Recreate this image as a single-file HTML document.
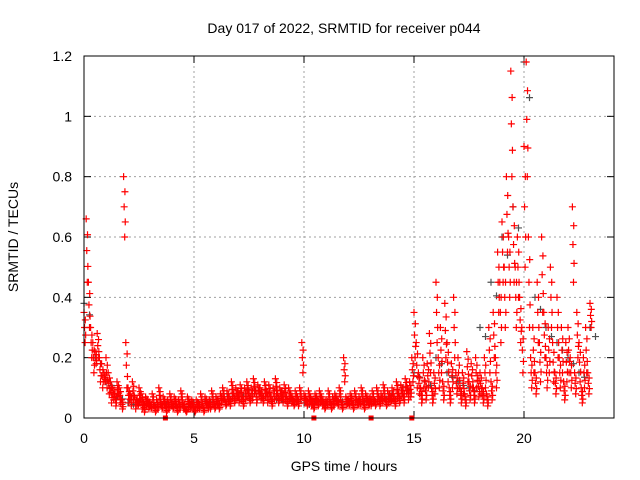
<!DOCTYPE html>
<html><head><meta charset="utf-8"><style>
html,body{margin:0;padding:0;background:#fff;}
svg{display:block;font-family:"Liberation Sans",sans-serif;}
</style></head><body>
<svg id="chart" width="640" height="480">
<rect width="640" height="480" fill="#fff"/>
<text x="344" y="33" font-size="14" text-anchor="middle">Day 017 of 2022, SRMTID for receiver p044</text>
<g id="grid"></g><g id="axes"></g><g id="marks"></g>
<rect x="84" y="56" width="530" height="362" fill="none" stroke="#000"/>
<text x="344" y="471" font-size="14" text-anchor="middle">GPS time / hours</text>
<text transform="translate(18,237) rotate(-90)" font-size="14" text-anchor="middle">SRMTID / TECUs</text>
</svg>
<script>
const xTicks=[0,5,10,15,20];
const yTicks=[0,0.2,0.4,0.6,0.8,1,1.2];
const yTickLabels=["0","0.2","0.4","0.6","0.8","1","1.2"];
const redStep=0.1;
const redA=[0.35,0.66,0.45,0.3,0.25,0.22,0.28,0.2,0.18,0.15,
0.2,0.15,0.12,0.1,0.08,0.12,0.1,0.06,0.8,0.25,
0.1,0.08,0.12,0.07,0.06,0.1,0.08,0.05,0.07,0.06,
0.05,0.08,0.04,0.06,0.1,0.05,0.07,0.04,0.06,0.08,
0.05,0.07,0.04,0.06,0.09,0.05,0.03,0.07,0.05,0.06,
0.04,0.06,0.05,0.08,0.04,0.07,0.05,0.06,0.09,0.05,
0.07,0.05,0.08,0.1,0.06,0.09,0.07,0.12,0.08,0.1,
0.09,0.11,0.07,0.1,0.12,0.08,0.1,0.13,0.09,0.11,
0.1,0.08,0.12,0.09,0.11,0.07,0.1,0.13,0.08,0.1,
0.09,0.11,0.07,0.1,0.08,0.06,0.09,0.07,0.1,0.25,
0.08,0.06,0.09,0.07,0.05,0.08,0.06,0.09,0.07,0.05,
0.06,0.09,0.05,0.07,0.08,0.06,0.1,0.05,0.2,0.07,
0.06,0.08,0.05,0.09,0.06,0.07,0.1,0.05,0.08,0.06,
0.07,0.09,0.06,0.1,0.07,0.08,0.11,0.06,0.09,0.08,
0.1,0.07,0.12,0.08,0.11,0.09,0.13,0.1,0.12,0.2,
0.35,0.25,0.15,0.1,0.2,0.12,0.18,0.28,0.1,0.15,
0.45,0.2,0.3,0.12,0.38,0.25,0.1,0.18,0.4,0.15,
0.2,0.1,0.15,0.08,0.22,0.12,0.18,0.1,0.2,0.14,
0.15,0.1,0.2,0.08,0.3,0.12,0.35,0.2,0.55,0.45,
0.65,0.5,0.8,0.6,1.15,0.7,0.5,0.6,0.4,0.3,
0.9,1.18,0.6,0.2,0.3,0.15,0.45,0.25,0.6,0.35,
0.2,0.3,0.5,0.25,0.15,0.4,0.2,0.3,0.12,0.25,
0.3,0.2,0.7,0.15,0.35,0.25,0.1,0.2,0.3,0.15,
0.38];
const redB=[0.25,0.45,0.3,0.2,0.15,0.18,0.2,0.12,0.1,0.12,
0.1,0.08,0.05,0.06,0.04,0.07,0.05,0.03,0.6,0.1,
0.05,0.04,0.06,0.03,0.04,0.05,0.03,0.02,0.04,0.03,
0.03,0.04,0.02,0.03,0.05,0.03,0.04,0.02,0.03,0.04,
0.03,0.04,0.02,0.03,0.05,0.03,0.02,0.04,0.03,0.03,
0.02,0.03,0.03,0.04,0.02,0.04,0.03,0.03,0.05,0.03,
0.04,0.03,0.05,0.06,0.04,0.05,0.04,0.07,0.05,0.06,
0.05,0.06,0.04,0.06,0.07,0.05,0.06,0.08,0.05,0.07,
0.06,0.05,0.07,0.05,0.06,0.04,0.06,0.08,0.05,0.06,
0.05,0.06,0.04,0.06,0.05,0.04,0.05,0.04,0.06,0.15,
0.05,0.04,0.05,0.04,0.03,0.05,0.04,0.05,0.04,0.03,
0.04,0.05,0.03,0.04,0.05,0.04,0.06,0.03,0.12,0.04,
0.04,0.05,0.03,0.05,0.04,0.04,0.06,0.03,0.05,0.04,
0.04,0.05,0.04,0.06,0.04,0.05,0.07,0.04,0.05,0.05,
0.06,0.04,0.07,0.05,0.07,0.05,0.08,0.06,0.07,0.12,
0.2,0.1,0.08,0.05,0.1,0.06,0.1,0.15,0.05,0.08,
0.25,0.1,0.15,0.06,0.2,0.12,0.05,0.1,0.2,0.08,
0.1,0.05,0.08,0.04,0.12,0.06,0.1,0.05,0.1,0.07,
0.08,0.05,0.1,0.04,0.15,0.06,0.2,0.1,0.35,0.25,
0.45,0.3,0.55,0.4,0.8,0.45,0.3,0.4,0.25,0.15,
0.5,0.8,0.3,0.1,0.15,0.08,0.25,0.12,0.35,0.2,
0.1,0.15,0.3,0.12,0.08,0.2,0.1,0.15,0.06,0.12,
0.15,0.1,0.45,0.08,0.2,0.12,0.05,0.1,0.15,0.08,
0.3];
const grayStep=0.5;
const grayV=[0.38,0.2,0.12,0.07,0.05,0.05,0.04,0.05,0.04,0.04,0.05,0.06,0.07,0.08,0.08,0.09,0.08,0.07,0.06,0.06,0.05,0.06,0.05,0.06,0.05,0.06,0.06,0.07,0.08,0.1,0.15,0.12,0.2,0.15,0.12,0.1,0.3,0.45,0.6,0.7,1.18,0.4,0.3,0.25,0.2,0.15,0.3];
const gapTimes=[3.7,10.45,13.05,14.9];

const NS="http://www.w3.org/2000/svg";
const X0=84,X1=612,Y0=418,Y1=56;
function sx(t){return X0+t/24*(X1-X0);}
function sy(v){return Y0-v/1.2*(Y0-Y1);}
function mk(tag,attrs,parent){const e=document.createElementNS(NS,tag);for(const k in attrs)e.setAttribute(k,attrs[k]);parent.appendChild(e);return e;}
const grid=document.getElementById('grid'),axes=document.getElementById('axes'),marks=document.getElementById('marks');
xTicks.forEach(t=>{
  const x=sx(t);
  if(t>0){const g=mk('line',{x1:x,y1:Y0,x2:x,y2:Y1,stroke:'#a0a0a0','stroke-dasharray':'2,3'},grid);
  
  }
  mk('line',{x1:x,y1:Y0,x2:x,y2:Y0-7,stroke:'#000'},axes);
  mk('line',{x1:x,y1:Y1,x2:x,y2:Y1+7,stroke:'#000'},axes);
  const l=mk('text',{x:x,y:Y0+25,'font-size':14,'text-anchor':'middle'},axes);l.textContent=t;
  
  
});
yTicks.forEach((v,i)=>{
  const y=sy(v);
  if(v>0&&v<1.2){const g=mk('line',{x1:X0,y1:y,x2:614,y2:y,stroke:'#a0a0a0','stroke-dasharray':'2,3'},grid);
  
  }
  mk('line',{x1:X0,y1:y,x2:X0+7,y2:y,stroke:'#000'},axes);
  mk('line',{x1:614,y1:y,x2:607,y2:y,stroke:'#000'},axes);
  const l=mk('text',{x:X0-12,y:y+5,'font-size':14,'text-anchor':'end'},axes);l.textContent=yTickLabels[i];
  
  
});
function plus(t,v,color,name){
  const x=sx(t),y=sy(v);
  const p=mk('path',{d:`M${x-3.5},${y}H${x+3.5}M${x},${y-3.5}V${y+3.5}`,stroke:color,'stroke-width':1.2,fill:'none'},marks);
  
  
}
grayV.forEach((v,i)=>{plus(i*grayStep,v,'#505050','gray-point');plus(i*grayStep+0.25,v*0.9,'#505050','gray-point');});
redB.forEach((v,i)=>plus(i*redStep+0.05,v,'#ff0000','red-point'));
redA.forEach((v,i)=>{
  plus(i*redStep,v,'#ff0000','red-point');
  const m=(v+redB[i])/2;
  plus(i*redStep+0.025,m,'#ff0000','red-point');
  plus(i*redStep+0.075,(m+redB[i])/2,'#ff0000','red-point');
  plus(i*redStep+0.06,(m+v)/2,'#ff0000','red-point');
});
gapTimes.forEach(t=>{
  const r=mk('rect',{x:sx(t)-2.5,y:Y0-2.5,width:5,height:5,fill:'#ff0000'},marks);
  
  
});
</script>
</body></html>
